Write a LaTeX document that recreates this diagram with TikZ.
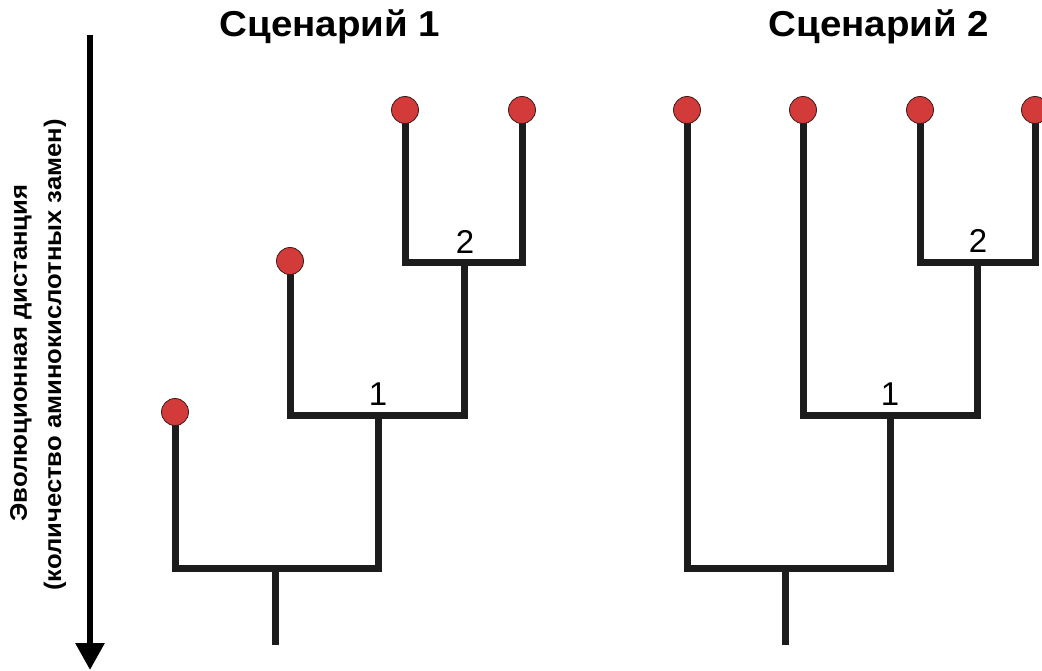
\documentclass[tikz,border=0pt]{standalone}
\usepackage{fontspec}
\setmainfont{Liberation Sans}
\usetikzlibrary{arrows.meta}
\definecolor{leafred}{HTML}{D33A3A}
\definecolor{branchcol}{HTML}{1C1C1C}
\definecolor{leafedge}{HTML}{3A1A1A}
\begin{document}
\begin{tikzpicture}[x=1pt,y=-1pt,
  branch/.style={line width=7pt, draw=branchcol, line join=miter},
  leaf/.style={circle, fill=leafred, draw=leafedge, line width=0.8pt, minimum size=27pt, inner sep=0pt},
  lbl/.style={font=\fontsize{33}{33}\selectfont, inner sep=0pt, anchor=base},
  ttl/.style={font=\bfseries\fontsize{36}{36}\selectfont, inner sep=0pt, anchor=base},
  axlbl/.style={font=\bfseries\fontsize{24}{24}\selectfont, inner sep=0pt, rotate=90},
  axis/.style={line width=6pt, draw=black, -{Triangle[width=28pt,length=27pt]}}]
\useasboundingbox (0,0) rectangle (1042,671);

% titles
\node[ttl] (t1) at (330,37) {\scalebox{1.07}[1]{Сценарий 1}};
\node[ttl] (t2) at (879,37) {\scalebox{1.07}[1]{Сценарий 2}};

% axis
\coordinate (axtop) at (90,35);
\coordinate (axbot) at (90,670);
\draw[axis] (axtop) -- (axbot);
\node[axlbl] (ax1) at (21,353) {\scalebox{1.07}[1]{Эволюционная дистанция}};
\node[axlbl] (ax2) at (55,355) {\scalebox{1.07}[1]{(количество аминокислотных замен)}};

% ---------- Scenario 1 ----------
\coordinate (a1) at (175,412);
\coordinate (a2) at (290,261);
\coordinate (a3) at (405,110);
\coordinate (a4) at (522,110);
\coordinate (aN2) at (464,263);
\coordinate (aN1) at (378,415);
\coordinate (aR) at (275,568);
\coordinate (aRb) at (275,645);
\draw[branch] (a3) |- (aN2) -| (a4);
\draw[branch] (a2) |- (aN1) -| (aN2);
\draw[branch] (a1) |- (aR) -| (aN1);
\draw[branch] (aR) -- (aRb);
\node[leaf] (da1) at (a1) {};
\node[leaf] (da2) at (a2) {};
\node[leaf] (da3) at (a3) {};
\node[leaf] (da4) at (a4) {};
\node[lbl] (la2) at (465,254) {2};
\node[lbl] (la1) at (378,405) {1};

% ---------- Scenario 2 ----------
\coordinate (b1) at (687,110);
\coordinate (b2) at (803,110);
\coordinate (b3) at (920,110);
\coordinate (b4) at (1035,110);
\coordinate (bN2) at (977,263);
\coordinate (bN1) at (890,415);
\coordinate (bR) at (785,568);
\coordinate (bRb) at (785,645);
\draw[branch] (b3) |- (bN2) -| (b4);
\draw[branch] (b2) |- (bN1) -| (bN2);
\draw[branch] (b1) |- (bR) -| (bN1);
\draw[branch] (bR) -- (bRb);
\node[leaf] (db1) at (b1) {};
\node[leaf] (db2) at (b2) {};
\node[leaf] (db3) at (b3) {};
\node[leaf] (db4) at (b4) {};
\node[lbl] (lb2) at (978,253) {2};
\node[lbl] (lb1) at (890,405) {1};
\end{tikzpicture}
\end{document}
